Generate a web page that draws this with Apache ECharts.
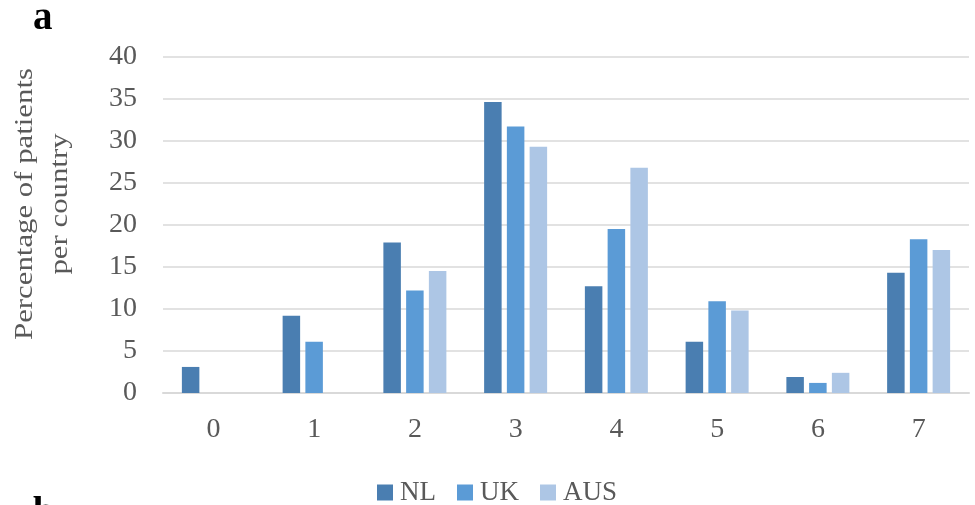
<!DOCTYPE html>
<html>
<head>
<meta charset="utf-8">
<script src="https://cdn.jsdelivr.net/npm/echarts@6/dist/echarts.min.js"></script>
<style>
  html, body { margin: 0; padding: 0; background: #fff; }
  #chart { width: 975px; height: 505px; }
</style>
</head>
<body>
<div id="chart"></div>
<script>
// Number of items (0–7) and share of patients per country, in percent
const categories = ['0', '1', '2', '3', '4', '5', '6', '7'];
const nlValues  = [3.1, 9.2, 17.9, 34.6, 12.7, 6.1, 1.9, 14.3];
const ukValues  = [0, 6.1, 12.2, 31.7, 19.5, 10.9, 1.2, 18.3];
const ausValues = [0, 0, 14.5, 29.3, 26.8, 9.8, 2.4, 17.0];
const yTicks = [0, 5, 10, 15, 20, 25, 30, 35, 40];

const FONT = '"Liberation Serif", "Times New Roman", serif';
const TEXT = '#595959';
const GRID = '#d9d9d9';

const chart = echarts.init(document.getElementById('chart'), null, { renderer: 'canvas' });

function barSeries(name, data, color) {
  return {
    name: name,
    type: 'bar',
    data: data,
    barWidth: 17.5,
    barGap: '30%',
    itemStyle: { color: color },
    emphasis: { disabled: true }
  };
}

chart.setOption({
  animation: false,
  backgroundColor: '#fff',
  textStyle: { fontFamily: FONT },
  grid: { left: 163, right: 6, top: 56.7, bottom: 112, containLabel: false },
  xAxis: {
    type: 'category',
    data: categories,
    axisLine: { show: true, lineStyle: { color: GRID, width: 2 } },
    axisTick: { show: false },
    axisLabel: { color: TEXT, fontSize: 28, fontFamily: FONT, margin: 23 },
    splitLine: { show: false }
  },
  yAxis: {
    type: 'value',
    min: yTicks[0],
    max: yTicks[yTicks.length - 1],
    interval: yTicks[1] - yTicks[0],
    axisLine: { show: false },
    axisTick: { show: false },
    axisLabel: { color: TEXT, fontSize: 28, fontFamily: FONT, margin: 26 },
    splitLine: { show: true, lineStyle: { color: GRID, width: 1.5 } }
  },
  legend: {
    data: ['NL', 'UK', 'AUS'],
    left: 372,
    top: 474,
    icon: 'rect',
    itemWidth: 16,
    itemHeight: 16,
    itemGap: 21,
    textStyle: { color: TEXT, fontSize: 27, fontFamily: FONT, padding: [0, 0, 0, 2] }
  },
  graphic: [
    {
      // two-line y-axis title, reading bottom to top
      type: 'text',
      x: 43,
      y: 204,
      rotation: Math.PI / 2,
      scaleX: 1.1,
      scaleY: 0.88,
      style: {
        text: 'Percentage of patients\nper country',
        font: '28px ' + FONT,
        fill: TEXT,
        align: 'center',
        verticalAlign: 'middle',
        lineHeight: 40
      }
    },
    {
      type: 'text',
      x: 33,
      y: 38,
      style: {
        text: 'a',
        font: 'bold 39px ' + FONT,
        fill: '#000',
        verticalAlign: 'bottom'
      }
    },
    {
      type: 'text',
      x: 33,
      y: 533,
      style: {
        text: 'b',
        font: 'bold 39px ' + FONT,
        fill: '#000',
        verticalAlign: 'bottom'
      }
    }
  ],
  series: [
    barSeries('NL', nlValues, '#4a7eb1'),
    barSeries('UK', ukValues, '#5b9bd6'),
    barSeries('AUS', ausValues, '#adc6e5')
  ]
});
</script>
</body>
</html>
